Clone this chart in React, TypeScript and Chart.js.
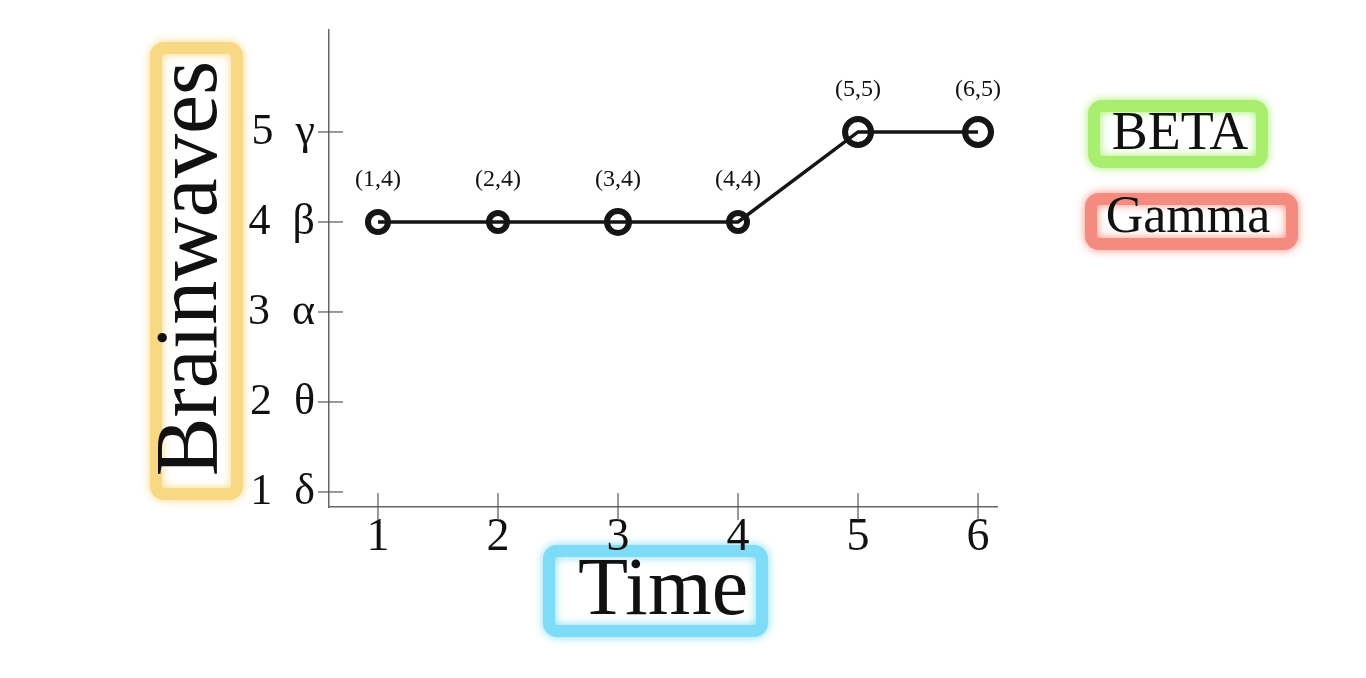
import { useEffect, useRef } from 'react';
import { Chart, registerables } from 'chart.js';

Chart.register(...registerables);

// ---- data ----
const timeValues = [1, 2, 3, 4, 5, 6];
const brainwaveLevels = [4, 4, 4, 4, 5, 5];
const yTickNumbers = [1, 2, 3, 4, 5];
const yTickSymbols = ['δ', 'θ', 'α', 'β', 'γ'];
const xTickNumbers = [1, 2, 3, 4, 5, 6];
const legendLabels = ['BETA', 'Gamma'];
const legendColors = ['#a9ef6f', '#f48b7f'];
const xAxisTitle = 'Time';
const yAxisTitle = 'Brainwaves';
const pointRadii = [10, 9, 11, 9, 13, 13];

const FONT = '"Liberation Serif", "Times New Roman", serif';

function glowBox(ctx: CanvasRenderingContext2D, x: number, y: number, w: number, h: number, color: string) {
  ctx.save();
  ctx.strokeStyle = color;
  ctx.lineWidth = 12;
  ctx.shadowColor = color;
  ctx.shadowBlur = 10;
  ctx.beginPath();
  (ctx as any).roundRect(x, y, w, h, 8);
  ctx.stroke();
  ctx.restore();
}

const decorPlugin = {
  id: 'decor',
  beforeDraw(chart: any) {
    const ctx: CanvasRenderingContext2D = chart.ctx;
    glowBox(ctx, 156, 48, 81, 446, '#f8d882');
    glowBox(ctx, 549, 551, 213, 80, '#7fdcf7');
    glowBox(ctx, 1094, 106, 168, 56, legendColors[0]);
    glowBox(ctx, 1091, 199, 201, 45, legendColors[1]);
  },
  afterDatasetsDraw(chart: any) {
    const ctx: CanvasRenderingContext2D = chart.ctx;
    const meta = chart.getDatasetMeta(0);
    ctx.save();
    ctx.font = `24px ${FONT}`;
    ctx.fillStyle = '#111';
    ctx.textAlign = 'center';
    ctx.textBaseline = 'middle';
    meta.data.forEach((pt: any, i: number) => {
      ctx.fillText(`(${timeValues[i]},${brainwaveLevels[i]})`, pt.x, pt.y - 42);
    });
    ctx.restore();
  },
  afterDraw(chart: any) {
    const ctx: CanvasRenderingContext2D = chart.ctx;
    const xs = chart.scales.x;
    const ys = chart.scales.y;
    const area = chart.chartArea;
    ctx.save();
    ctx.strokeStyle = '#555';
    ctx.lineWidth = 1.2;
    xTickNumbers.forEach((v) => {
      const px = xs.getPixelForValue(v);
      ctx.beginPath();
      ctx.moveTo(px, area.bottom - 14);
      ctx.lineTo(px, area.bottom + 13);
      ctx.stroke();
    });
    yTickNumbers.forEach((v) => {
      const py = ys.getPixelForValue(v);
      ctx.beginPath();
      ctx.moveTo(area.left - 11, py);
      ctx.lineTo(area.left + 14, py);
      ctx.stroke();
    });
    // legend labels
    ctx.fillStyle = '#111';
    ctx.textAlign = 'center';
    ctx.textBaseline = 'middle';
    ctx.font = `54px ${FONT}`;
    ctx.fillText(legendLabels[0], 1180, 135);
    ctx.font = `52px ${FONT}`;
    ctx.fillText(legendLabels[1], 1188, 218);
    ctx.restore();
  },
};

export default function App() {
  const ref = useRef<HTMLCanvasElement | null>(null);
  useEffect(() => {
    if (!ref.current) return;
    const chart = new Chart(ref.current, {
      type: 'line',
      data: {
        datasets: [
          {
            data: timeValues.map((t, i) => ({ x: t, y: brainwaveLevels[i] })),
            borderColor: '#151515',
            borderWidth: 3.5,
            pointRadius: pointRadii,
            pointHoverRadius: pointRadii,
            pointBorderWidth: 6,
            pointBorderColor: '#151515',
            pointBackgroundColor: 'rgba(0,0,0,0)',
            pointStyle: 'circle',
            tension: 0,
            fill: false,
          },
        ],
      },
      options: {
        responsive: false,
        animation: false,
        events: [],
        layout: { padding: { top: 30, right: 369, left: 0, bottom: 0 } },
        plugins: {
          legend: { display: false },
          tooltip: { enabled: false },
          title: { display: false },
        },
        scales: {
          x: {
            type: 'linear',
            min: 0.592,
            max: 6.158,
            grid: { display: false, drawTicks: false },
            border: { display: true, color: '#666', width: 1.5 },
            ticks: {
              stepSize: 1,
              includeBounds: false,
              padding: 3,
              color: '#111',
              font: { family: FONT, size: 46 },
              maxRotation: 0,
              autoSkip: false,
              callback: (v: any) => (xTickNumbers.includes(Number(v)) ? String(v) : null),
            },
            title: {
              display: true,
              text: xAxisTitle,
              color: '#111',
              font: { family: FONT, size: 82 },
              padding: { top: 0, bottom: 36 },
            },
            afterFit: (s: any) => {
              s.height = 171;
              s.paddingLeft = 0;
              s.paddingRight = 0;
            },
          },
          y: {
            type: 'linear',
            min: 0.833,
            max: 6.133,
            grid: { display: false, drawTicks: false },
            border: { display: true, color: '#666', width: 1.5 },
            ticks: {
              stepSize: 1,
              includeBounds: false,
              padding: 14,
              color: '#111',
              font: { family: FONT, size: 44 },
              autoSkip: false,
              callback: (v: any) => {
                const idx = yTickNumbers.indexOf(Number(v));
                return idx >= 0 ? `${yTickNumbers[idx]}  ${yTickSymbols[idx]}` : null;
              },
            },
            title: {
              display: true,
              text: yAxisTitle,
              color: '#111',
              font: { family: FONT, size: 88 },
              padding: { top: 140, bottom: 0 },
            },
            afterFit: (s: any) => {
              s.width = 329;
              s.paddingTop = 0;
              s.paddingBottom = 0;
            },
          },
        },
      },
      plugins: [decorPlugin],
    } as any);
    return () => chart.destroy();
  }, []);
  return (
    <div style={{ position: 'absolute', left: 0, top: 0, width: 1366, height: 678, background: '#fff' }}>
      <canvas ref={ref} width={1366} height={678} style={{ display: 'block' }} />
    </div>
  );
}
